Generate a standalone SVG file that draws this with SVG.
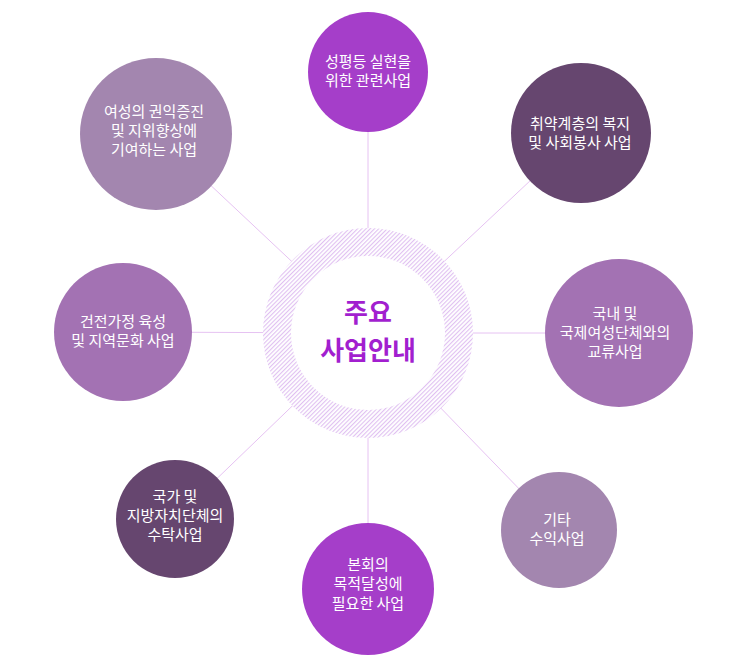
<svg xmlns="http://www.w3.org/2000/svg" width="735" height="672" viewBox="0 0 735 672">
<style>
.lbl{font-family:"Noto Sans CJK KR","Noto Sans",sans-serif;font-size:15px;fill:#ffffff;text-anchor:middle}
.ctr{font-family:"Noto Sans CJK KR","Noto Sans",sans-serif;font-size:26px;font-weight:bold;fill:#a21fcf;text-anchor:middle}
.con line{stroke:#e6c2f2;stroke-width:1}
.c1{fill:#a53ec9}.c2{fill:#66466f}.c3{fill:#a372b3}.c4{fill:#a386af}
</style>
<defs>
<pattern id="hatch" patternUnits="userSpaceOnUse" width="3" height="3" patternTransform="rotate(-45)">
<rect width="3" height="3" fill="#ffffff"/>
<rect width="3" height="1.1" fill="#e0c0f1"/>
</pattern>
</defs>
<rect width="735" height="672" fill="#ffffff"/>
<g id="connectors" class="con">
<line x1="368" y1="333" x2="368" y2="72"/>
<line x1="368" y1="333" x2="581" y2="133"/>
<line x1="368" y1="333" x2="619" y2="333"/>
<line x1="368" y1="333" x2="559" y2="530"/>
<line x1="368" y1="333" x2="368" y2="589"/>
<line x1="368" y1="333" x2="175" y2="519"/>
<line x1="368" y1="333" x2="123" y2="332"/>
<line x1="368" y1="333" x2="156" y2="134"/>
</g>
<g id="center">
<circle cx="368" cy="333" r="105" fill="url(#hatch)"/>
<circle cx="368" cy="333" r="77" fill="#ffffff"/>
<text class="ctr" x="368" y="322">주요</text>
<text class="ctr" x="368" y="360">사업안내</text>
</g>
<g id="n-top">
<circle class="c1" cx="368" cy="72" r="60"/>
<text class="lbl" x="368" y="67">성평등 실현을</text>
<text class="lbl" x="368" y="86">위한 관련사업</text>
</g>
<g id="n-topright">
<circle class="c2" cx="581" cy="133" r="70"/>
<text class="lbl" x="580" y="129">취약계층의 복지</text>
<text class="lbl" x="580" y="148">및 사회봉사 사업</text>
</g>
<g id="n-right">
<circle class="c3" cx="619" cy="333" r="74"/>
<text class="lbl" x="615" y="319">국내 및</text>
<text class="lbl" x="615" y="338">국제여성단체와의</text>
<text class="lbl" x="615" y="357">교류사업</text>
</g>
<g id="n-bottomright">
<circle class="c4" cx="559" cy="530" r="58"/>
<text class="lbl" x="557" y="525">기타</text>
<text class="lbl" x="557" y="544">수익사업</text>
</g>
<g id="n-bottom">
<circle class="c1" cx="368" cy="589" r="66"/>
<text class="lbl" x="368" y="570">본회의</text>
<text class="lbl" x="368" y="589">목적달성에</text>
<text class="lbl" x="368" y="609">필요한 사업</text>
</g>
<g id="n-bottomleft">
<circle class="c2" cx="175" cy="519" r="59"/>
<text class="lbl" x="175" y="502">국가 및</text>
<text class="lbl" x="175" y="521">지방자치단체의</text>
<text class="lbl" x="175" y="540">수탁사업</text>
</g>
<g id="n-left">
<circle class="c3" cx="123" cy="332" r="69"/>
<text class="lbl" x="123" y="327">건전가정 육성</text>
<text class="lbl" x="123" y="346">및 지역문화 사업</text>
</g>
<g id="n-topleft">
<circle class="c4" cx="156" cy="134" r="76"/>
<text class="lbl" x="154" y="117">여성의 권익증진</text>
<text class="lbl" x="154" y="136">및 지위향상에</text>
<text class="lbl" x="154" y="155">기여하는 사업</text>
</g>
</svg>
